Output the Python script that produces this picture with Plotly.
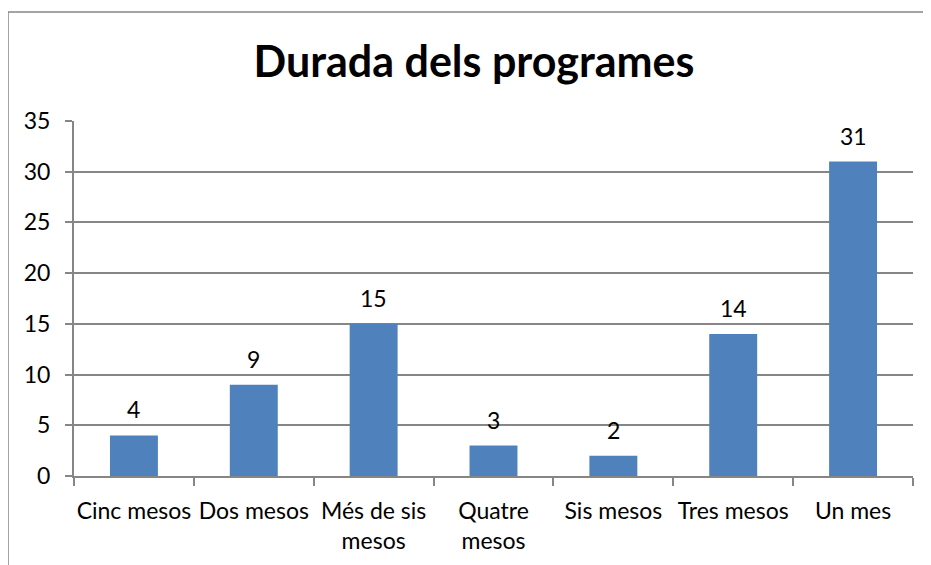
import plotly.graph_objects as go

categories = ["Cinc mesos", "Dos mesos", "Més de sis<br>mesos", "Quatre<br>mesos",
              "Sis mesos", "Tres mesos", "Un mes"]
values = [4, 9, 15, 3, 2, 14, 31]
y_ticks = [0, 5, 10, 15, 20, 25, 30, 35]
title_text = "Durada dels programes"

FONT = "Lato"
GRID = "#868686"
BAR = "#4F81BD"

W, H = 923, 557
L, R, T, B = 66, 18, 113, 89
PW, PH = W - L - R, H - T - B

fig = go.Figure()
fig.add_trace(go.Bar(x=categories, y=values, marker=dict(color=BAR, line=dict(width=0)),
                     showlegend=False, hoverinfo="x+y"))

annotations = [
    dict(x=c, y=v, xref="x", yref="y", text=str(v), showarrow=False,
         yanchor="bottom", yshift=10, font=dict(family=FONT, size=23, color="#000"))
    for c, v in zip(categories, values)
]

fig.update_layout(
    width=W, height=H,
    margin=dict(l=L, r=R, t=T, b=B, autoexpand=False),
    paper_bgcolor="white", plot_bgcolor="white",
    bargap=0.6,
    title=dict(text="<b>" + title_text + "</b>", x=(474 - 8) / W, xanchor="center",
               y=1 - 54 / H, yanchor="middle",
               font=dict(family=FONT, size=43, color="#000")),
    annotations=annotations,
    shapes=[dict(type="rect", xref="paper", yref="paper",
                 x0=(0 - L) / PW, x1=1.2, y0=-0.5, y1=(H - B - 4) / PH,
                 line=dict(color=GRID, width=1.5), fillcolor="rgba(0,0,0,0)", layer="below")],
    font=dict(family=FONT, size=23, color="#000"),
)
fig.update_xaxes(type="category", showline=True, linecolor=GRID, linewidth=2,
                 ticks="outside", tickson="boundaries", ticklen=8, tickcolor=GRID,
                 tickwidth=2, showgrid=False, tickangle=0, ticklabelstandoff=13,
                 automargin=False,
                 tickfont=dict(family=FONT, size=23, color="#000"))
fig.update_yaxes(range=[0, 35], tickvals=y_ticks, showline=True, linecolor=GRID,
                 linewidth=2, ticks="outside", ticklen=7, tickcolor=GRID, tickwidth=2,
                 showgrid=True, gridcolor=GRID, gridwidth=2, zeroline=False,
                 ticklabelstandoff=10, automargin=False,
                 tickfont=dict(family=FONT, size=23, color="#000"))

fig.write_html("out.html")
